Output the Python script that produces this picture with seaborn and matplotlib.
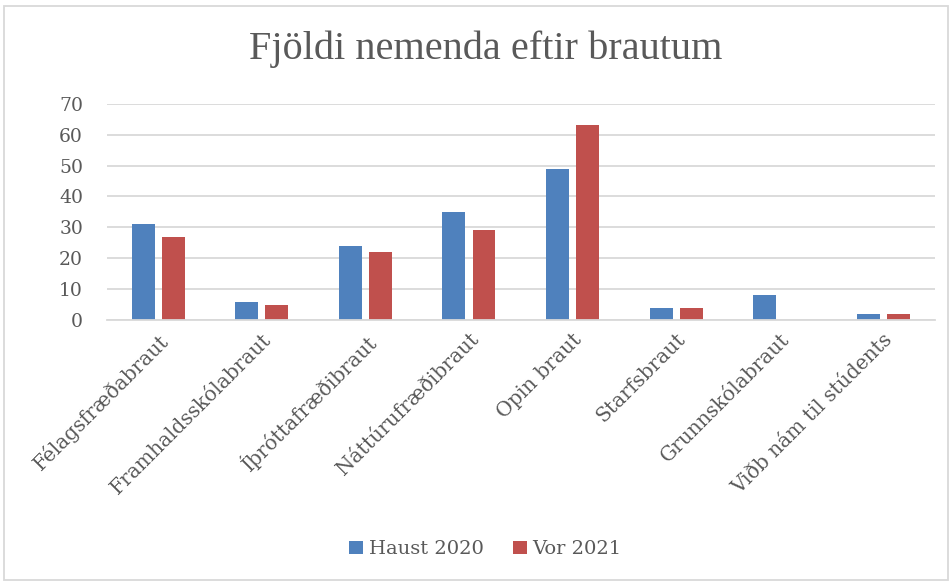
import pandas as pd
import seaborn as sns
import matplotlib.pyplot as plt
from matplotlib.patches import Rectangle

# Data
categories = ["Félagsfræðabraut", "Framhaldsskólabraut", "Íþróttafræðibraut",
              "Náttúrufræðibraut", "Opin braut", "Starfsbraut",
              "Grunnskólabraut", "Viðb nám til stúdents"]
haust_2020 = [31, 6, 24, 35, 49, 4, 8, 2]
vor_2021 = [27, 5, 22, 29, 63, 4, 0, 2]
series_names = ["Haust 2020", "Vor 2021"]
colors = ["#4F81BD", "#C0504D"]

df = pd.DataFrame({"braut": categories, series_names[0]: haust_2020, series_names[1]: vor_2021})
df_long = df.melt(id_vars="braut", var_name="Önn", value_name="Fjöldi")

sns.set_style("white")
plt.rcParams["font.family"] = ["DejaVu Serif"]
text_color = "#595959"

fig = plt.figure(figsize=(9.52, 5.83), dpi=100)
ax = fig.add_axes([0.112, 0.451, 0.870, 0.371])

sns.barplot(data=df_long, x="braut", y="Fjöldi", hue="Önn", palette=colors,
            width=0.58, gap=0.235, saturation=1, linewidth=0, ax=ax, legend=True)

ax.set_ylim(0, 70)
ax.set_yticks(range(0, 71, 10))
ax.set_xlim(-0.5, len(categories) - 0.5)
ax.yaxis.grid(True, color="#D9D9D9", linewidth=1.3)
ax.set_axisbelow(True)
for s in ["top", "right", "left"]:
    ax.spines[s].set_visible(False)
ax.spines["bottom"].set_color("#D9D9D9")
ax.spines["bottom"].set_linewidth(1.3)
ax.set_xlabel("")
ax.set_ylabel("")
ax.tick_params(axis="y", length=0, labelsize=13.5, colors=text_color, pad=17)
ax.tick_params(axis="x", length=0, labelsize=14.5, colors=text_color, pad=7)
plt.setp(ax.get_xticklabels(), rotation=45, ha="right", rotation_mode="anchor")

fig.text(0.51, 0.915, "Fjöldi nemenda eftir brautum", fontsize=29, color=text_color,
         ha="center", va="center", family=["Liberation Serif", "DejaVu Serif"])

handles, labels = ax.get_legend_handles_labels()
ax.legend_.remove()
fig.legend(handles, labels, loc="center", bbox_to_anchor=(0.51, 0.058), ncol=2,
           frameon=False, fontsize=14, labelcolor=text_color,
           handlelength=0.7, handleheight=0.7, handletextpad=0.3, columnspacing=1.5)

# light border around the chart
fig.patches.append(Rectangle((0.004, 0.005), 0.992, 0.985, transform=fig.transFigure,
                             fill=False, edgecolor="#D9D9D9", linewidth=1.3))

plt.savefig("out.png", dpi=100)
